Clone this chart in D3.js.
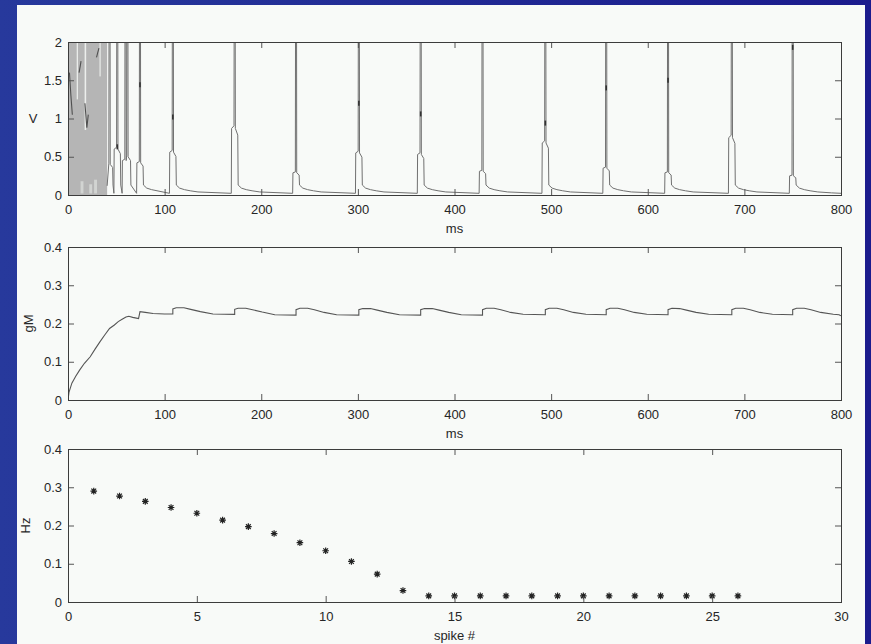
<!DOCTYPE html>
<html>
<head>
<meta charset="utf-8">
<script src="https://cdn.jsdelivr.net/npm/d3@7"></script>
<style>
body { margin: 0; background: #1f2b95; }
svg { display: block; }
</style>
</head>
<body>
<div id="plot"></div>
<script>
// ---- data ----

// top panel: membrane trace V (ms)
const burstEnd = 40.5;                       // 0..burstEnd the trace oscillates too fast to resolve
const burstGaps = [[9.0, 10.3, 1.25], [17.2, 18.8, 0.85], [32.6, 33.8, 1.55]];   // [t0, t1, lowest V of white gap]
const burstFloorGaps = [[13, 16, 0.18], [22, 25, 0.14], [27, 30, 0.2]];          // lighter islands at the bottom
const burstMarks = [
    [[1.5, 1.6], [3, 1.3], [4.5, 1.05]],
    [[11.5, 1.6], [13.5, 1.75]],
    [[17.5, 1.2], [19.5, 0.88], [21, 1.05]],
    [[29.5, 1.8], [32, 1.92]]
];
const spikeTimes     = [43, 51, 59.5, 61.5, 74.5, 108.5, 172.5, 236, 301, 365, 429, 494, 557, 621, 687, 750];
const spikeShoulders = [0.40, 0.60, 0.45, 0.50, 0.42, 0.56, 0.87, 0.29, 0.55, 0.53, 0.31, 0.68, 0.35, 0.29, 0.75, 0.25];
const spikeMarks     = [null, 0.63, null, null, 1.44, 1.02, null, null, 1.2, 1.06, null, 0.94, 1.4, 1.5, null, 1.93];
const spikePeak = 2.6;
const spikeTail = [[3.6, 0.13], [7, 0.09], [12, 0.07], [18, 0.055], [26, 0.04], [40, 0.028]];
const baselineV = 0.022;
const vTicks = [0, 0.5, 1, 1.5, 2];
const msTicks = [0, 100, 200, 300, 400, 500, 600, 700, 800];

// middle panel: gM (ms)
const gmTrace = [
  [0, 0], [1, 0.02], [4, 0.044], [8, 0.062], [12, 0.078], [17, 0.096], [23, 0.113], [28, 0.133],
  [33, 0.152], [38, 0.170], [43, 0.187], [48, 0.196], [52, 0.205], [56, 0.211], [60, 0.217],
  [63, 0.219], [67, 0.216], [73, 0.213],
  [74.5, 0.231], [80, 0.229], [88, 0.226], [100, 0.225], [108.5, 0.225],
  [108.5, 0.238], [112, 0.241], [120, 0.241], [127, 0.237], [137, 0.231], [150, 0.225], [172.5, 0.224],
  [172.5, 0.237], [176, 0.240], [184, 0.240], [191, 0.236], [201, 0.230], [214, 0.223], [236, 0.222],
  [236, 0.236], [240, 0.240], [248, 0.240], [255, 0.236], [265, 0.229], [278, 0.223], [301, 0.222],
  [301, 0.236], [305, 0.239], [313, 0.239], [320, 0.235], [330, 0.229], [343, 0.223], [365, 0.222],
  [365, 0.236], [369, 0.239], [377, 0.239], [384, 0.235], [394, 0.229], [407, 0.223], [429, 0.222],
  [429, 0.236], [433, 0.240], [441, 0.240], [448, 0.236], [458, 0.229], [471, 0.224], [494, 0.223],
  [494, 0.236], [498, 0.240], [506, 0.240], [513, 0.236], [523, 0.229], [536, 0.224], [557, 0.223],
  [557, 0.236], [561, 0.240], [569, 0.240], [576, 0.236], [586, 0.229], [599, 0.224], [621, 0.223],
  [621, 0.236], [625, 0.240], [633, 0.239], [640, 0.235], [650, 0.229], [663, 0.224], [687, 0.223],
  [687, 0.236], [691, 0.240], [699, 0.240], [706, 0.236], [716, 0.229], [729, 0.224], [750, 0.223],
  [750, 0.236], [754, 0.240], [762, 0.240], [769, 0.236], [779, 0.229], [792, 0.224], [798, 0.223], [800, 0.220]
];
const gmTicks = [0, 0.1, 0.2, 0.3, 0.4];

// bottom panel: rate per spike
const spikeNumbers = [1, 2, 3, 4, 5, 6, 7, 8, 9, 10, 11, 12, 13, 14, 15, 16, 17, 18, 19, 20, 21, 22, 23, 24, 25, 26];
const rateHz = [0.290, 0.277, 0.263, 0.247, 0.232, 0.214, 0.197, 0.179, 0.155, 0.134, 0.106, 0.073, 0.030,
                0.016, 0.016, 0.016, 0.016, 0.016, 0.016, 0.016, 0.016, 0.016, 0.016, 0.016, 0.016, 0.016];
const spikeTicks = [0, 5, 10, 15, 20, 25, 30];
const hzTicks = [0, 0.1, 0.2, 0.3, 0.4];

// ---- layout ----
const W = 871, H = 644;
const left = 68, plotW = 773;
const panelColor = "#f8faf8";
const fontFamily = "'Liberation Sans', Arial, sans-serif";

const svg = d3.select("#plot")
    .append("svg")
    .attr("width", W)
    .attr("height", H);

const grad = svg.append("defs").append("linearGradient")
    .attr("id", "bg").attr("x1", 0).attr("x2", 1).attr("y1", 0).attr("y2", 0);
grad.append("stop").attr("offset", "0%").attr("stop-color", "#27399c");
grad.append("stop").attr("offset", "100%").attr("stop-color", "#1b1b8d");

svg.append("rect").attr("width", W).attr("height", H).attr("fill", "url(#bg)");
svg.append("rect").attr("x", 17).attr("y", 5).attr("width", 848).attr("height", H)
    .attr("fill", panelColor);

// one MATLAB-like axes box
function makeAxes(id, top, h, xDomain, yDomain) {
    const g = svg.append("g").attr("transform", `translate(${left},${top})`);
    const x = d3.scaleLinear().domain(xDomain).range([0, plotW]);
    const y = d3.scaleLinear().domain(yDomain).range([h, 0]);
    svg.select("defs").append("clipPath").attr("id", id)
        .append("rect").attr("width", plotW).attr("height", h);
    const data = g.append("g").attr("clip-path", `url(#${id})`);
    return {g, x, y, h, data};
}

function finishAxes(ax, xTicks, yTicks, xLabel, yLabel, yLabelRotate, yLabelX) {
    const {g, x, y, h} = ax;
    const style = sel => {
        sel.select(".domain").remove();
        sel.attr("font-size", 13).attr("font-family", fontFamily);
        sel.selectAll(".tick line").attr("stroke", "#555");
        sel.selectAll(".tick text").attr("fill", "#262626");
    };
    g.append("g").attr("transform", `translate(0,${h})`)
        .call(d3.axisBottom(x).tickValues(xTicks).tickSizeInner(-6).tickSizeOuter(0).tickPadding(10).tickFormat(d => String(d)))
        .call(style);
    g.append("g")
        .call(d3.axisTop(x).tickValues(xTicks).tickSizeInner(-6).tickSizeOuter(0).tickFormat(""))
        .call(style);
    g.append("g")
        .call(d3.axisLeft(y).tickValues(yTicks).tickSizeInner(-6).tickSizeOuter(0).tickPadding(6).tickFormat(d => String(d)))
        .call(style);
    g.append("g").attr("transform", `translate(${plotW},0)`)
        .call(d3.axisRight(y).tickValues(yTicks).tickSizeInner(-6).tickSizeOuter(0).tickFormat(""))
        .call(style);

    g.append("rect")
        .attr("x", 0.5).attr("y", 0.5)
        .attr("width", plotW).attr("height", h)
        .attr("fill", "none")
        .attr("stroke", "#3c3c3c")
        .attr("stroke-width", 1);

    g.append("text")
        .attr("x", plotW / 2)
        .attr("y", h + 38)
        .attr("text-anchor", "middle")
        .attr("font-size", 13)
        .attr("font-family", fontFamily)
        .attr("fill", "#262626")
        .text(xLabel);

    g.append("text")
        .attr("transform", `translate(${yLabelX},${h / 2})` + (yLabelRotate ? " rotate(-90)" : ""))
        .attr("text-anchor", "middle")
        .attr("dy", "0.35em")
        .attr("font-size", 13)
        .attr("font-family", fontFamily)
        .attr("fill", "#262626")
        .text(yLabel);
}

// ---- top: V ----
const a1 = makeAxes("clip1", 42, 153, [0, 800], [0, 2]);

// unresolved fast burst
a1.data.append("rect")
    .attr("x", a1.x(0)).attr("y", a1.y(2))
    .attr("width", a1.x(burstEnd) - a1.x(0))
    .attr("height", a1.y(0) - a1.y(2))
    .attr("fill", "#b5b5b5");
a1.data.selectAll(".gap")
    .data(burstGaps)
    .join("rect")
    .attr("x", d => a1.x(d[0]))
    .attr("y", a1.y(2))
    .attr("width", d => a1.x(d[1]) - a1.x(d[0]))
    .attr("height", d => a1.y(d[2]) - a1.y(2))
    .attr("fill", "#eceeec");
a1.data.selectAll(".floor")
    .data(burstFloorGaps)
    .join("rect")
    .attr("x", d => a1.x(d[0]))
    .attr("y", d => a1.y(d[2]))
    .attr("width", d => a1.x(d[1]) - a1.x(d[0]))
    .attr("height", d => a1.y(0.02) - a1.y(d[2]))
    .attr("fill", "#d2d4d2");
a1.data.selectAll(".bmark")
    .data(burstMarks)
    .join("path")
    .attr("fill", "none")
    .attr("stroke", "#505050")
    .attr("stroke-width", 1.1)
    .attr("d", d3.line().x(d => a1.x(d[0])).y(d => a1.y(d[1])));

// build the trace from the spike list
const vTrace = [[burstEnd, 0.12]];
spikeTimes.forEach((t, i) => {
    const lo = i === 0 ? burstEnd : (spikeTimes[i - 1] + t) / 2;
    const hi = i === spikeTimes.length - 1 ? 800 : (t + spikeTimes[i + 1]) / 2;
    const sh = spikeShoulders[i];
    const pts = [[t - 3.5, baselineV], [t - 3.2, sh], [t - 0.7, sh * 1.04], [t - 0.5, spikePeak],
                 [t + 0.5, spikePeak], [t + 0.7, sh], [t + 3.2, sh * 0.9]]
        .concat(spikeTail.map(([dt, v]) => [t + dt, v]));
    pts.forEach(p => { if (p[0] > lo && p[0] < hi) vTrace.push(p); });
});
vTrace.push([800, baselineV]);

a1.data.append("path")
    .datum(vTrace)
    .attr("fill", "none")
    .attr("stroke", "#707070")
    .attr("stroke-width", 1)
    .attr("d", d3.line().x(d => a1.x(d[0])).y(d => a1.y(d[1])));

a1.data.selectAll(".mark")
    .data(spikeTimes.map((t, i) => [t, spikeMarks[i]]).filter(d => d[1] !== null))
    .join("line")
    .attr("x1", d => a1.x(d[0])).attr("x2", d => a1.x(d[0]))
    .attr("y1", d => a1.y(d[1]) - 2.5).attr("y2", d => a1.y(d[1]) + 2.5)
    .attr("stroke", "#333")
    .attr("stroke-width", 1.6);

finishAxes(a1, msTicks, vTicks, "ms", "V", false, -35);

// ---- middle: gM ----
const a2 = makeAxes("clip2", 247, 153, [0, 800], [0, 0.4]);
a2.data.append("path")
    .datum(gmTrace)
    .attr("fill", "none")
    .attr("stroke", "#555")
    .attr("stroke-width", 1.1)
    .attr("d", d3.line().x(d => a2.x(d[0])).y(d => a2.y(d[1])));
finishAxes(a2, msTicks, gmTicks, "ms", "gM", true, -40);

// ---- bottom: Hz ----
const a3 = makeAxes("clip3", 449, 153, [0, 30], [0, 0.4]);
const r = 3.3, q = r * 0.72;
const star = `M${-r},0L${r},0M0,${-r}L0,${r}M${-q},${-q}L${q},${q}M${-q},${q}L${q},${-q}`;
a3.g.selectAll(".pt")
    .data(spikeNumbers.map((n, i) => [n, rateHz[i]]))
    .join("path")
    .attr("transform", d => `translate(${a3.x(d[0])},${a3.y(d[1])})`)
    .attr("d", star)
    .attr("fill", "none")
    .attr("stroke", "#222")
    .attr("stroke-width", 1.2);
finishAxes(a3, spikeTicks, hzTicks, "spike #", "Hz", true, -43);
</script>
</body>
</html>
